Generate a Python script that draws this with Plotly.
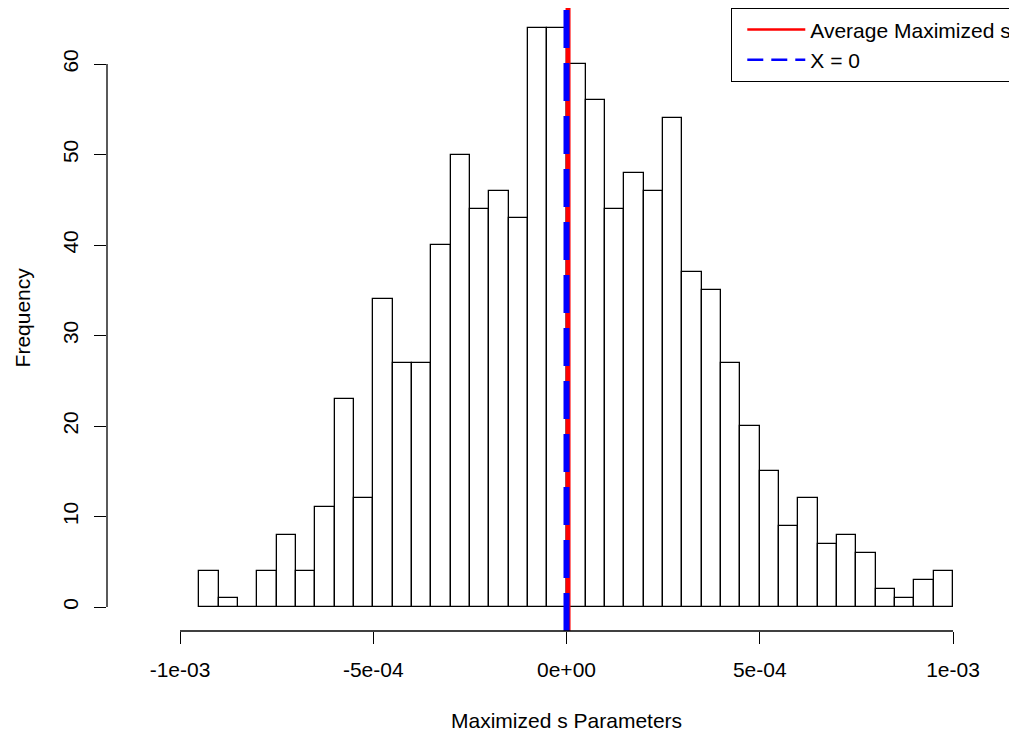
import numpy as np
import plotly.graph_objects as go

# histogram of maximized s parameters, 1000 draws, bin width 5e-05
bin_start = -9.5e-4
bin_width = 5e-5
counts = [4, 1, 0, 4, 8, 4, 11, 23, 12, 34, 27, 27, 40, 50, 44, 46, 43, 64, 64,
          60, 56, 44, 48, 46, 54, 37, 35, 27, 20, 15, 9, 12, 7, 8, 6, 2, 1, 3, 4]

avg_s = 4e-6   # red line, sits just right of zero
zero_x = 0.0

x_ticks = [-1e-3, -5e-4, 0, 5e-4, 1e-3]
x_ticktext = ["-1e-03", "-5e-04", "0e+00", "5e-04", "1e-03"]
y_ticks = [0, 10, 20, 30, 40, 50, 60]

centers = bin_start + bin_width * (np.arange(len(counts)) + 0.5)

FONT = "Liberation Sans, Arial, Helvetica, sans-serif"
RED = "#ff0000"
BLUE = "#0000ff"

fig = go.Figure()
fig.add_trace(go.Bar(
    x=centers,
    y=counts,
    width=bin_width,
    marker=dict(color="white", line=dict(color="black", width=1.3)),
    showlegend=False,
    hoverinfo="x+y",
))

# legend entries only (thin samples like the R legend)
fig.add_trace(go.Scatter(x=[None], y=[None], mode="lines", name="Average Maximized s",
                         line=dict(color=RED, width=2.5)))
fig.add_trace(go.Scatter(x=[None], y=[None], mode="lines", name="X = 0",
                         line=dict(color=BLUE, width=2.5, dash="16px,8px")))

fig.add_shape(type="line", xref="x", yref="paper", x0=avg_s, x1=avg_s, y0=0, y1=1,
              line=dict(color=RED, width=5), layer="above")
fig.add_shape(type="line", xref="x", yref="paper", x0=zero_x, x1=zero_x, y0=0, y1=1,
              line=dict(color=BLUE, width=6, dash="38px,15px"), layer="above")

# R style detached axis lines, only between the end ticks
fig.add_shape(type="line", xref="x", yref="paper", x0=x_ticks[0], x1=x_ticks[-1], y0=0, y1=0,
              line=dict(color="black", width=1.3), layer="above")
fig.add_shape(type="line", xref="paper", yref="y", x0=0, x1=0, y0=y_ticks[0], y1=y_ticks[-1],
              line=dict(color="black", width=1.3), layer="above")

fig.add_annotation(text="Maximized s Parameters", xref="x", yref="paper",
                   x=0, y=-0.143, showarrow=False, yanchor="middle",
                   font=dict(size=21, color="black", family=FONT))
fig.add_annotation(text="Frequency", xref="paper", yref="y",
                   x=-0.0934, y=32, showarrow=False, textangle=-90, xanchor="center",
                   font=dict(size=21, color="black", family=FONT))

# page body has an 8px margin; figure runs a bit past the right edge so
# the legend box gets cut off like in the original
fig.update_layout(
    width=1017,
    height=730,
    margin=dict(l=99, r=8, t=0, b=107, autoexpand=False),
    paper_bgcolor="white",
    plot_bgcolor="white",
    bargap=0,
    font=dict(family=FONT, size=21, color="black"),
    xaxis=dict(
        range=[-1.1889e-3, 1.1656e-3],
        tickvals=x_ticks,
        ticktext=x_ticktext,
        ticks="outside",
        ticklen=12,
        tickwidth=1.3,
        tickcolor="black",
        showgrid=False,
        zeroline=False,
        showline=False,
        ticklabelstandoff=8,
    ),
    yaxis=dict(
        range=[-2.65, 66.19],
        tickvals=y_ticks,
        ticks="outside",
        ticklen=12,
        tickwidth=1.3,
        tickcolor="black",
        tickangle=-90,
        showgrid=False,
        zeroline=False,
        showline=False,
        ticklabelstandoff=8,
    ),
    legend=dict(
        x=0.6857,
        xanchor="left",
        y=1,
        yanchor="top",
        bordercolor="black",
        borderwidth=1.3,
        bgcolor="white",
        itemwidth=58,
        indentation=10,
        font=dict(size=21, family=FONT, color="black"),
    ),
)

fig.write_html("out.html")
